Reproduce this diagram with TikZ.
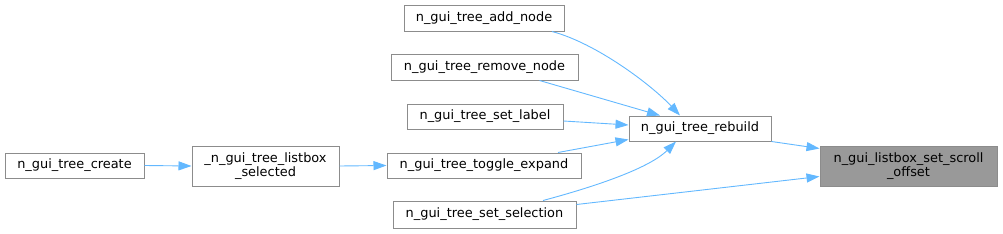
\documentclass[tikz,border=0pt]{standalone}
\usepackage{fontspec}
\setmainfont{DejaVu Sans}
\usetikzlibrary{arrows.meta}
\definecolor{edgeblue}{RGB}{99,184,255}
\definecolor{boxline}{RGB}{140,140,140}
\definecolor{hlfill}{RGB}{153,153,153}
\begin{document}
\begin{tikzpicture}[x=1pt,y=-1pt,
  fn/.style={draw=boxline,line width=1pt,fill=white,inner sep=0pt,align=center,
    font=\fontsize{12.9}{14.5}\selectfont,text=black},
  edge/.style={draw=edgeblue,line width=0.9pt,-{Triangle[length=13pt,width=9pt]}}]
\useasboundingbox (0,0) rectangle (1003,233);
\node[fn,minimum width=139pt,minimum height=25pt] (create) at (74.5,165.5) {n\_gui\_tree\_create};
\node[fn,minimum width=147pt,minimum height=40pt] (sel) at (265.5,166) {\_n\_gui\_tree\_listbox\\\_selected};
\node[fn,minimum width=160pt,minimum height=26pt] (add) at (484,18) {n\_gui\_tree\_add\_node};
\node[fn,minimum width=187pt,minimum height=26pt] (remove) at (484.5,67) {n\_gui\_tree\_remove\_node};
\node[fn,minimum width=156pt,minimum height=25pt] (label) at (485,116.5) {n\_gui\_tree\_set\_label};
\node[fn,minimum width=194pt,minimum height=25pt] (toggle) at (484,165.5) {n\_gui\_tree\_toggle\_expand};
\node[fn,minimum width=183pt,minimum height=27pt] (selection) at (484.5,214.5) {n\_gui\_tree\_set\_selection};
\node[fn,minimum width=142pt,minimum height=25pt] (rebuild) at (700,128.5) {n\_gui\_tree\_rebuild};
\node[fn,fill=hlfill,minimum width=177pt,minimum height=40pt] (scroll) at (908.5,166) {n\_gui\_listbox\_set\_scroll\\\_offset};

\draw[edge] (create.east) -- (sel.west);
\draw[edge] (sel.west -| sel.east) -- (toggle.west);
\draw[edge] ([xshift=68pt]add.south) .. controls +(45,12) and +(-28,-30) .. ([xshift=-20pt]rebuild.north);
\draw[edge] ([xshift=55pt]remove.south) -- ([xshift=-40pt]rebuild.north);
\draw[edge] ([yshift=-4.5pt]label.east) -- ([yshift=3.5pt]rebuild.west);
\draw[edge] ([xshift=74pt]toggle.north) -- ([yshift=2pt]rebuild.south west);
\draw[edge] ([xshift=58.5pt]selection.north) .. controls +(45,-12) and +(-28,28) .. ([xshift=-24pt]rebuild.south);
\draw[edge] (rebuild.south east) -- ([yshift=-3pt]scroll.north west);
\draw[edge] ([yshift=10pt]selection.east) -- ([yshift=10pt]scroll.south west);
\end{tikzpicture}
\end{document}
